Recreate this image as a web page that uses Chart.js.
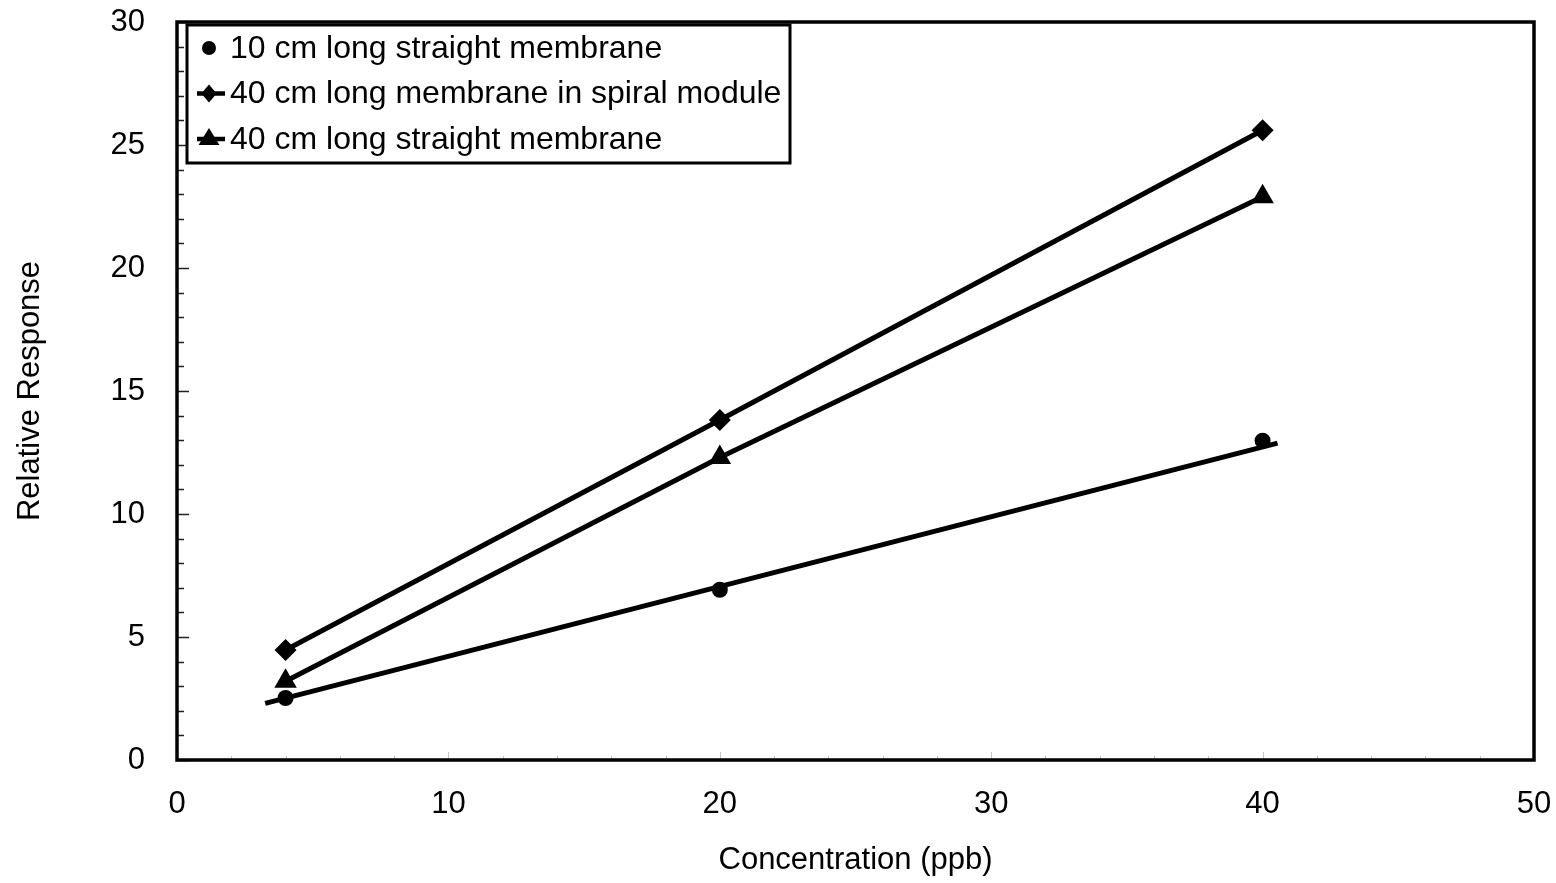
<!DOCTYPE html>
<html>
<head>
<meta charset="utf-8">
<title>Relative Response vs Concentration</title>
<script src="https://cdn.jsdelivr.net/npm/chart.js@4/dist/chart.umd.min.js"></script>
<style>
  html, body { margin: 0; padding: 0; background: #fff; }
  #wrap { position: relative; width: 1556px; height: 883px; }
</style>
</head>
<body>
<div id="wrap"><canvas id="myChart"></canvas></div>
<script>
// concentrations tested (ppb)
const concentration = [4, 20, 40];

// relative response for each membrane setup
const straight10cm = [2.52, 6.92, 12.98];
const spiral40cm = [4.47, 13.82, 25.6];
const straight40cm = [3.2, 12.3, 22.9];

// linear fit drawn under the 10 cm points (end points)
const fitX = [3.25, 40.55];
const fitY = [2.3, 12.88];

const xTicks = [0, 10, 20, 30, 40, 50];
const yTicks = [0, 5, 10, 15, 20, 25, 30];

const FONT = "'Liberation Sans', Arial, sans-serif";

Chart.defaults.color = '#000';
Chart.defaults.font.family = FONT;

function toPoints(xs, ys) {
    return xs.map((x, i) => ({ x: x, y: ys[i] }));
}

// draw one marker shape for the legend box
function drawMarker(ctx, style, x, y, r) {
    ctx.beginPath();
    if (style === 'circle') {
        ctx.arc(x, y, r, 0, Math.PI * 2);
    } else if (style === 'rectRot') {
        ctx.moveTo(x, y - r);
        ctx.lineTo(x + r * 0.85, y);
        ctx.lineTo(x, y + r);
        ctx.lineTo(x - r * 0.85, y);
        ctx.closePath();
    } else if (style === 'triangle') {
        ctx.moveTo(x, y - r);
        ctx.lineTo(x + r * 0.95, y + r * 0.55);
        ctx.lineTo(x - r * 0.95, y + r * 0.55);
        ctx.closePath();
    }
    ctx.fill();
}

// frame, inward tick marks and boxed legend
const framePlugin = {
    id: 'frame',
    afterDatasetsDraw(chart) {
        const { ctx, chartArea: a, scales } = chart;
        ctx.save();

        // small inward ticks on the left edge
        ctx.strokeStyle = '#222';
        ctx.lineWidth = 1.5;
        for (let v = 0; v <= 30; v++) {
            const y = Math.round(scales.y.getPixelForValue(v)) + 0.5;
            const len = v % 5 === 0 ? 12 : 7;
            ctx.beginPath();
            ctx.moveTo(a.left, y);
            ctx.lineTo(a.left + len, y);
            ctx.stroke();
        }

        // faint ticks along the bottom edge
        ctx.strokeStyle = '#c4c4c4';
        ctx.lineWidth = 1;
        for (let v = 2; v < 50; v += 2) {
            const x = Math.round(scales.x.getPixelForValue(v)) + 0.5;
            const len = v % 10 === 0 ? 8 : 4;
            ctx.beginPath();
            ctx.moveTo(x, a.bottom);
            ctx.lineTo(x, a.bottom - len);
            ctx.stroke();
        }

        // plot frame
        ctx.strokeStyle = '#000';
        ctx.lineWidth = 3.5;
        ctx.strokeRect(a.left, a.top, a.right - a.left, a.bottom - a.top);

        // legend box
        const bx = a.left + 10, by = a.top + 3, bw = 603, bh = 138;
        ctx.fillStyle = '#fff';
        ctx.fillRect(bx, by, bw, bh);
        ctx.lineWidth = 3;
        ctx.strokeRect(bx, by, bw, bh);

        const entries = chart.data.datasets.filter(d => d.label);
        const sizes = { circle: 7, rectRot: 9, triangle: 11 };
        ctx.font = '32px ' + FONT;
        ctx.textBaseline = 'middle';
        ctx.textAlign = 'left';
        entries.forEach((ds, i) => {
            const cy = by + 23 + i * 45.5;
            const cx = bx + 22;
            ctx.fillStyle = '#000';
            if (ds.showLine !== false) {
                ctx.strokeStyle = '#000';
                ctx.lineWidth = 4.5;
                ctx.beginPath();
                ctx.moveTo(cx - 12, cy);
                ctx.lineTo(cx + 16, cy);
                ctx.stroke();
            }
            drawMarker(ctx, ds.pointStyle, cx, cy, sizes[ds.pointStyle]);
            ctx.fillText(ds.label, bx + 43, cy + 1);
        });
        ctx.restore();
    }
};

const ctx = document.getElementById('myChart').getContext('2d');

new Chart(ctx, {
    type: 'scatter',
    data: {
        datasets: [
            {
                label: '10 cm long straight membrane',
                data: toPoints(concentration, straight10cm),
                showLine: false,
                pointStyle: 'circle',
                pointRadius: 8,
                backgroundColor: '#000',
                borderColor: '#000',
                borderWidth: 0,
                order: 0
            },
            {
                label: '40 cm long membrane in spiral module',
                data: toPoints(concentration, spiral40cm),
                showLine: true,
                pointStyle: 'rectRot',
                pointRadius: 11,
                backgroundColor: '#000',
                borderColor: '#000',
                borderWidth: 5,
                pointBorderWidth: 0,
                order: 0
            },
            {
                label: '40 cm long straight membrane',
                data: toPoints(concentration, straight40cm),
                showLine: true,
                pointStyle: 'triangle',
                pointRadius: 13,
                backgroundColor: '#000',
                borderColor: '#000',
                borderWidth: 5,
                pointBorderWidth: 0,
                order: 0
            },
            {
                // fitted line for the 10 cm membrane
                label: '',
                data: toPoints(fitX, fitY),
                showLine: true,
                pointRadius: 0,
                borderColor: '#000',
                borderWidth: 5,
                order: 1
            }
        ]
    },
    options: {
        responsive: true,
        maintainAspectRatio: false,
        animation: false,
        layout: { padding: { top: 22, right: 22, left: 0, bottom: 0 } },
        plugins: {
            legend: { display: false },
            tooltip: { enabled: false }
        },
        scales: {
            x: {
                type: 'linear',
                min: 0,
                max: 50,
                afterBuildTicks: s => { s.ticks = xTicks.map(v => ({ value: v })); },
                afterFit: s => {
                    s.height = 123;
                    s.paddingLeft = 0;
                    s.paddingRight = 0;
                },
                grid: { display: false, drawTicks: false },
                border: { display: false },
                ticks: { font: { size: 31 }, padding: 26, maxRotation: 0 },
                title: {
                    display: true,
                    text: 'Concentration (ppb)',
                    font: { size: 31 },
                    padding: { top: 0, bottom: 4 }
                }
            },
            y: {
                type: 'linear',
                min: 0,
                max: 30,
                afterBuildTicks: s => { s.ticks = yTicks.map(v => ({ value: v })); },
                afterFit: s => {
                    s.width = 177;
                    s.paddingTop = 0;
                    s.paddingBottom = 0;
                },
                grid: { display: false, drawTicks: false },
                border: { display: false },
                ticks: { font: { size: 31 }, padding: 32 },
                title: {
                    display: true,
                    text: 'Relative Response',
                    font: { size: 31 },
                    padding: { top: 12, bottom: 0 }
                }
            }
        }
    },
    plugins: [framePlugin]
});
</script>
</body>
</html>
